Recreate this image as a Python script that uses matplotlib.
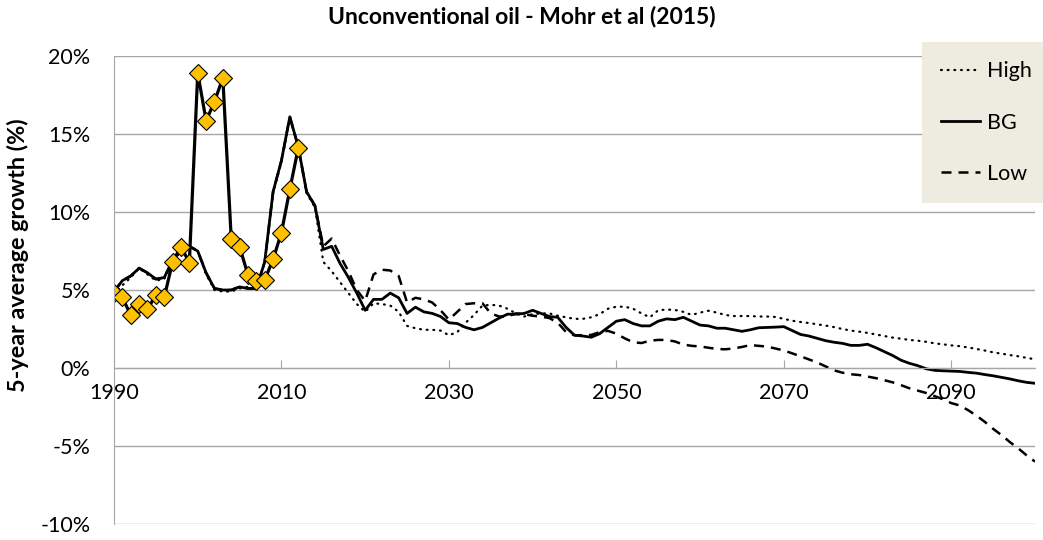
import numpy as np
import matplotlib.pyplot as plt
from matplotlib.ticker import FuncFormatter, MultipleLocator

plt.rcParams['font.family'] = ['Lato', 'DejaVu Sans']

# years for the scenario curves (annual)
anos = list(range(1990, 2101))

bg = [4.9, 5.6, 5.9, 6.4, 6.1, 5.7, 5.8, 6.9, 7.6, 7.8,
      7.5, 6.1, 5.1, 5.0, 5.0, 5.2, 5.1, 5.1, 6.8, 11.3,
      13.3, 16.1, 14.2, 11.3, 10.4, 7.6, 7.8, 6.7, 5.8, 4.8,
      3.7, 4.4, 4.4, 4.8, 4.5, 3.5, 3.9, 3.6, 3.5, 3.3,
      2.9, 2.85, 2.6, 2.45, 2.6, 2.9, 3.2, 3.45, 3.45, 3.5,
      3.7, 3.5, 3.3, 3.25, 2.6, 2.1, 2.05, 1.97, 2.2, 2.6,
      3.0, 3.1, 2.85, 2.7, 2.7, 3.0, 3.15, 3.1, 3.25, 3.0,
      2.75, 2.7, 2.55, 2.55, 2.45, 2.35, 2.45, 2.58, 2.6, 2.62,
      2.65, 2.4, 2.15, 2.05, 1.9, 1.75, 1.65, 1.58, 1.45, 1.45,
      1.52, 1.3, 1.05, 0.8, 0.5, 0.3, 0.15, -0.05, -0.15, -0.18,
      -0.2, -0.22, -0.28, -0.33, -0.42, -0.5, -0.6, -0.7, -0.82, -0.92,
      -0.98]

high = [4.7, 5.3, 5.8, 6.4, 6.0, 5.6, 5.7, 6.8, 7.5, 7.8,
        7.5, 6.0, 5.0, 4.9, 4.9, 5.1, 5.2, 5.1, 6.8, 11.2,
        13.2, 16.0, 14.2, 11.2, 10.3, 6.8, 6.2, 5.5, 4.8, 4.1,
        3.6, 4.15, 4.1, 4.0, 3.6, 2.7, 2.55, 2.45, 2.45, 2.4,
        2.1, 2.3, 2.9, 3.4, 4.0, 4.05, 4.0, 3.8, 3.5, 3.3,
        3.45, 3.5, 3.5, 3.35, 3.25, 3.15, 3.15, 3.25, 3.45, 3.8,
        3.93, 3.93, 3.8, 3.5, 3.25, 3.7, 3.75, 3.72, 3.6, 3.4,
        3.55, 3.67, 3.55, 3.4, 3.33, 3.33, 3.33, 3.3, 3.3, 3.27,
        3.15, 3.03, 2.95, 2.88, 2.8, 2.72, 2.62, 2.5, 2.4, 2.33,
        2.25, 2.15, 2.05, 1.95, 1.88, 1.8, 1.75, 1.68, 1.58, 1.52,
        1.45, 1.4, 1.32, 1.22, 1.12, 1.0, 0.92, 0.83, 0.75, 0.65,
        0.56]

low = [4.9, 5.6, 5.9, 6.4, 6.1, 5.7, 5.8, 6.9, 7.6, 7.8,
       7.5, 6.1, 5.1, 5.0, 5.0, 5.2, 5.1, 5.1, 6.8, 11.3,
       13.3, 16.1, 14.2, 11.3, 10.4, 7.8, 8.3, 7.2, 6.2, 5.0,
       4.3, 6.0, 6.3, 6.25, 5.9, 4.2, 4.5, 4.4, 4.2, 3.7,
       3.1, 3.6, 4.1, 4.15, 4.15, 3.5, 3.3, 3.3, 3.5, 3.45,
       3.35, 3.3, 3.2, 2.9, 2.3, 2.1, 2.1, 2.12, 2.3, 2.38,
       2.2, 1.9, 1.65, 1.6, 1.75, 1.8, 1.8, 1.7, 1.5, 1.42,
       1.38, 1.3, 1.22, 1.2, 1.25, 1.35, 1.47, 1.42, 1.37, 1.25,
       1.12, 0.94, 0.75, 0.55, 0.35, 0.1, -0.15, -0.3, -0.4, -0.45,
       -0.55, -0.65, -0.78, -0.92, -1.1, -1.3, -1.45, -1.6, -1.8, -2.0,
       -2.25, -2.4, -2.7, -3.05, -3.45, -3.9, -4.3, -4.75, -5.15, -5.6,
       -6.0]

# historical data (markers)
anos_hist = list(range(1990, 2013))
hist = [4.83, 4.53, 3.38, 4.1, 3.76, 4.68, 4.53, 6.8, 7.78, 6.75,
        18.93, 15.85, 17.07, 18.6, 8.3, 7.78, 5.96, 5.58, 5.64, 6.97,
        8.68, 11.45, 14.08]

gris = '#A6A6A6'

fig = plt.figure(figsize=(10.43, 5.4), dpi=100)
ax = fig.add_axes([114 / 1043, 1 - 524 / 540, 921 / 1043, 468 / 540])

ax.plot(anos, high, color='black', lw=1.6, linestyle=(0, (0.4, 2.6)),
        dash_capstyle='round', label='High')
ax.plot(anos, bg, color='black', lw=2.0, label='BG')
ax.plot(anos, low, color='black', lw=1.8, linestyle=(0, (4, 2.8)), label='Low')
ax.plot(anos_hist, hist, color='black', lw=2.3, marker='D', ms=9,
        markerfacecolor='#FFC000', markeredgecolor='black', markeredgewidth=0.8)

ax.set_xlim(1990, 2100)
ax.set_ylim(-10, 20)
ax.yaxis.set_major_locator(MultipleLocator(5))
ax.yaxis.set_major_formatter(FuncFormatter(lambda v, p: f"{v:.0f}%"))
ax.set_xticks(range(1990, 2100, 20))
ax.grid(axis='y', color=gris, lw=1.0)
ax.set_axisbelow(True)

for s in ['top', 'right']:
    ax.spines[s].set_visible(False)
ax.spines['left'].set_color(gris)
ax.spines['bottom'].set_position(('data', 0))
ax.spines['bottom'].set_color(gris)
ax.tick_params(axis='x', direction='in', length=6, color=gris, labelsize=15.5, pad=11)
ax.tick_params(axis='y', length=0, labelsize=15.5, pad=17)

ax.set_ylabel('5-year average growth (%)', fontsize=16.8, fontweight='bold')
ax.yaxis.set_label_coords(-0.092, 0.575)
fig.suptitle('Unconventional oil - Mohr et al (2015)', fontsize=16.5, fontweight='bold', y=0.99)

leg = ax.legend(loc='upper left', bbox_to_anchor=(922 / 1043, 1 - 42 / 540),
                bbox_transform=fig.transFigure, fontsize=15.5, frameon=True,
                fancybox=False, facecolor='#EEECE1', edgecolor='none', framealpha=1,
                handlelength=1.8, handletextpad=0.3, labelspacing=1.45,
                borderpad=0.9, borderaxespad=0)

fig.savefig('out.png', dpi=100)
